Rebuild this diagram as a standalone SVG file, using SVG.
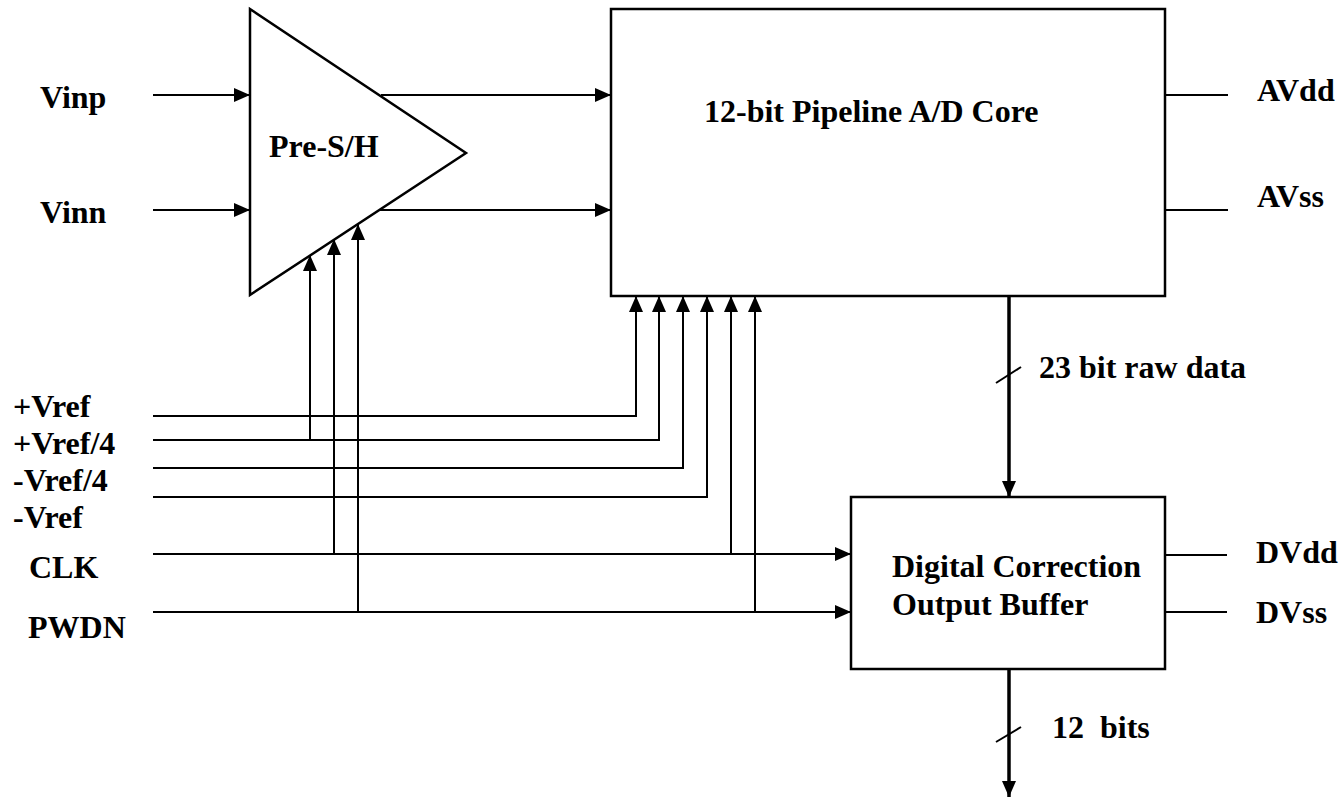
<svg xmlns="http://www.w3.org/2000/svg" width="1342" height="797" viewBox="0 0 1342 797" font-family="'Liberation Serif', 'Times New Roman', Tinos, serif">
<style>
text{font-family:"Liberation Serif","Times New Roman",Tinos,serif;font-weight:700;font-size:32px;fill:#000;white-space:pre}
.w{fill:none;stroke:#000;stroke-width:2}
.a{marker-end:url(#arr)}
.bus{fill:none;stroke:#000;stroke-width:3.5}
.box{fill:#fff;stroke:#000;stroke-width:2.5}
</style>
<defs>
<marker id="arr" viewBox="0 0 16 14" refX="16" refY="7" markerWidth="16" markerHeight="14" markerUnits="userSpaceOnUse" orient="auto">
<path d="M0,0 L16,7 L0,14 Z" fill="#000"/>
</marker>
</defs>
<rect width="1342" height="797" fill="#fff"/>

<g id="presh">
<polygon class="box" points="250,9 250,295 466,153"/>
<text x="269" y="157">Pre-S/H</text>
</g>

<g id="core">
<rect class="box" x="611" y="9" width="554" height="287"/>
<text x="704" y="122">12-bit Pipeline A/D Core</text>
</g>

<g id="digital">
<rect class="box" x="851" y="497" width="314" height="172"/>
<text x="892" y="577">Digital Correction</text>
<text x="892" y="615">Output Buffer</text>
</g>

<g id="labels">
<text x="40" y="108">Vinp</text>
<text x="40" y="223">Vinn</text>
<text x="13" y="417">+Vref</text>
<text x="13" y="454">+Vref/4</text>
<text x="13" y="491">-Vref/4</text>
<text x="13" y="528">-Vref</text>
<text x="29" y="578">CLK</text>
<text x="28" y="638">PWDN</text>
<text x="1257" y="101">AVdd</text>
<text x="1257" y="207">AVss</text>
<text x="1256" y="563">DVdd</text>
<text x="1256" y="623">DVss</text>
<text x="1039" y="378">23 bit raw data</text>
<text x="1052" y="738" xml:space="preserve">12  bits</text>
</g>

<g id="connectors">
<line class="w a" x1="153" y1="95" x2="250" y2="95"/>
<line class="w a" x1="153" y1="210" x2="250" y2="210"/>
<line class="w a" x1="381" y1="95" x2="611" y2="95"/>
<line class="w a" x1="380" y1="210" x2="611" y2="210"/>
<line class="w" x1="1165" y1="95" x2="1228" y2="95"/>
<line class="w" x1="1165" y1="210" x2="1228" y2="210"/>
<line class="w" x1="1165" y1="555" x2="1227" y2="555"/>
<line class="w" x1="1165" y1="612" x2="1227" y2="612"/>

<polyline class="w a" points="153,416 636,416 636,296"/>
<polyline class="w a" points="153,440 659,440 659,296"/>
<polyline class="w a" points="153,468 683,468 683,296"/>
<polyline class="w a" points="153,497 707,497 707,296"/>
<line class="w a" x1="153" y1="554" x2="851" y2="554"/>
<line class="w a" x1="153" y1="612" x2="851" y2="612"/>
<line class="w a" x1="731" y1="554" x2="731" y2="296"/>
<line class="w a" x1="755" y1="612" x2="755" y2="296"/>

<line class="w a" x1="310" y1="440" x2="310" y2="255"/>
<line class="w a" x1="334" y1="554" x2="334" y2="239"/>
<line class="w a" x1="358" y1="612" x2="358" y2="224"/>

<line class="bus a" x1="1009" y1="296" x2="1009" y2="497"/>
<line class="w" x1="996" y1="383" x2="1021" y2="367"/>
<line class="bus a" x1="1009" y1="669" x2="1009" y2="797"/>
<line class="w" x1="996" y1="742" x2="1021" y2="727"/>
</g>
</svg>
